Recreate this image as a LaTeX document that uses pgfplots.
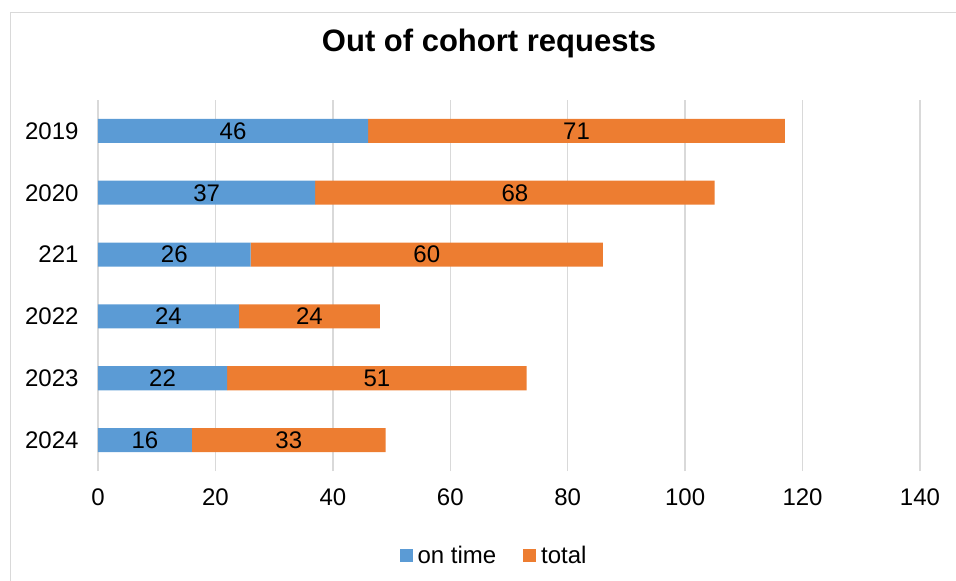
\documentclass[border=0pt]{standalone}
\usepackage{fontspec}
\setmainfont{Liberation Sans}
\usepackage{pgfplots}
\pgfplotsset{compat=1.18}
\pgfplotsset{/pgf/number format/assume math mode=true}
\usepackage{pgfplotstable}
\definecolor{cblue}{HTML}{5B9BD5}
\definecolor{corange}{HTML}{ED7D31}
\definecolor{cgrid}{HTML}{D9D9D9}
\newcommand{\lblfont}{\fontsize{24}{28}\selectfont}
\pgfplotstableread{
y ontime total
5 46 71
4 37 68
3 26 60
2 24 24
1 22 51
0 16 33
}\data
\pgfplotsset{base/.style={scale only axis, width=822pt, height=371pt,
  xmin=0, xmax=140, ymin=-0.5, ymax=5.5, anchor=south west, at={(0pt,0pt)}}}
\begin{document}
\begin{tikzpicture}
\useasboundingbox (-98pt,-110pt) rectangle (858pt,471pt);
\draw[cgrid, line width=1.3pt] (-87.5pt,-110pt) -- (-87.5pt,458.5pt) -- (858pt,458.5pt);
\begin{axis}[base, xbar stacked, bar width=24pt,
  axis line style={draw=none}, major tick length=0pt,
  xmajorgrids, grid style={cgrid, line width=1.3pt},
  xtick={0,20,...,140}, ytick={0,...,5},
  yticklabels={2024,2023,2022,221,2020,2019},
  ticklabel style={font=\lblfont},
  xticklabel style={yshift=-14pt},
  yticklabel style={xshift=-16pt},
  title={\fontsize{31}{35}\selectfont\bfseries Out of cohort requests},
  title style={at={(rel axis cs:0.4757,1.1375)}, anchor=center},
  legend style={at={(rel axis cs:0.4818,-0.229)}, anchor=center, draw=none,
    font=\lblfont, legend columns=2,
    /tikz/every odd column/.style={column sep=3pt},
    /tikz/every even column/.style={column sep=25pt}},
  legend image code/.code={\fill[#1,draw=none] (0pt,-6pt) rectangle (13pt,7pt);},
]
\addplot[fill=cblue, draw=none] table[x=ontime, y=y] {\data};
\addlegendentry{on time}
\addplot[fill=corange, draw=none] table[x=total, y=y] {\data};
\addlegendentry{total}
\end{axis}
\begin{axis}[base, hide axis]
\addplot[draw=none, mark=none, nodes near coords, point meta=explicit,
  every node near coord/.append style={anchor=center, font=\lblfont}]
  table[x expr=\thisrow{ontime}/2, y=y, meta=ontime] {\data};
\addplot[draw=none, mark=none, nodes near coords, point meta=explicit,
  every node near coord/.append style={anchor=center, font=\lblfont}]
  table[x expr=\thisrow{ontime}+\thisrow{total}/2, y=y, meta=total] {\data};
\end{axis}
\end{tikzpicture}
\end{document}
